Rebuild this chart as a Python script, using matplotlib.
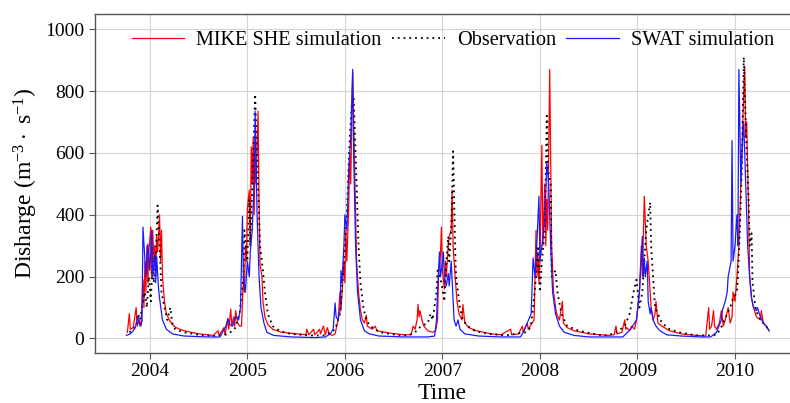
import numpy as np
import matplotlib
matplotlib.use('Agg')
import matplotlib.pyplot as plt

plt.rcParams['font.family'] = 'Liberation Serif'
plt.rcParams['mathtext.fontset'] = 'custom'
plt.rcParams['mathtext.rm'] = 'Liberation Serif'
plt.rcParams['mathtext.it'] = 'Liberation Serif:italic'

# MIKE SHE simulation (time in decimal years, discharge)
mike_t = [2003.77, 2003.79, 2003.80, 2003.83, 2003.86, 2003.87, 2003.89, 2003.91, 2003.93, 2003.94,
          2003.95, 2003.96, 2003.97, 2003.98, 2003.99, 2004.01, 2004.02, 2004.03, 2004.04, 2004.05,
          2004.06, 2004.07, 2004.08, 2004.10, 2004.11, 2004.12, 2004.13, 2004.15, 2004.17, 2004.20,
          2004.23, 2004.27, 2004.35, 2004.50, 2004.65, 2004.70, 2004.71, 2004.76, 2004.77, 2004.80,
          2004.81, 2004.83, 2004.84, 2004.86, 2004.87, 2004.88, 2004.90, 2004.92, 2004.94, 2004.96,
          2004.97, 2004.98, 2004.99, 2005.00, 2005.02, 2005.03, 2005.04, 2005.05, 2005.06, 2005.07,
          2005.08, 2005.09, 2005.11, 2005.12, 2005.13, 2005.15, 2005.16, 2005.18, 2005.21, 2005.26,
          2005.35, 2005.50, 2005.60, 2005.61, 2005.63, 2005.68, 2005.69, 2005.74, 2005.75, 2005.78,
          2005.80, 2005.82, 2005.84, 2005.87, 2005.90, 2005.93, 2005.95, 2005.96, 2005.97, 2005.99,
          2006.00, 2006.01, 2006.02, 2006.04, 2006.05, 2006.06, 2006.08, 2006.09, 2006.10, 2006.11,
          2006.12, 2006.14, 2006.16, 2006.18, 2006.20, 2006.22, 2006.23, 2006.28, 2006.31, 2006.33,
          2006.45, 2006.60, 2006.68, 2006.70, 2006.72, 2006.74, 2006.75, 2006.76, 2006.77, 2006.79,
          2006.81, 2006.85, 2006.90, 2006.93, 2006.95, 2006.96, 2006.98, 2006.99, 2007.00, 2007.02,
          2007.03, 2007.04, 2007.06, 2007.07, 2007.09, 2007.10, 2007.11, 2007.13, 2007.15, 2007.17,
          2007.20, 2007.21, 2007.23, 2007.27, 2007.35, 2007.50, 2007.60, 2007.70, 2007.71, 2007.78,
          2007.82, 2007.83, 2007.87, 2007.88, 2007.91, 2007.94, 2007.96, 2007.97, 2007.98, 2007.99,
          2008.00, 2008.02, 2008.03, 2008.04, 2008.05, 2008.06, 2008.07, 2008.08, 2008.10, 2008.11,
          2008.12, 2008.14, 2008.17, 2008.20, 2008.23, 2008.24, 2008.28, 2008.35, 2008.50, 2008.70,
          2008.76, 2008.78, 2008.79, 2008.84, 2008.87, 2008.88, 2008.89, 2008.92, 2008.94, 2008.97,
          2008.99, 2009.02, 2009.04, 2009.05, 2009.07, 2009.09, 2009.11, 2009.13, 2009.14, 2009.16,
          2009.18, 2009.19, 2009.21, 2009.25, 2009.33, 2009.45, 2009.60, 2009.70, 2009.73, 2009.74,
          2009.76, 2009.78, 2009.79, 2009.81, 2009.84, 2009.86, 2009.88, 2009.90, 2009.93, 2009.95,
          2009.97, 2009.98, 2010.00, 2010.02, 2010.04, 2010.06, 2010.08, 2010.10, 2010.11, 2010.12,
          2010.14, 2010.15, 2010.17, 2010.19, 2010.22, 2010.26, 2010.27, 2010.29, 2010.32, 2010.35]
mike_q = [20, 80, 30, 35, 100, 40, 60, 40, 190, 100,
          250, 150, 300, 180, 280, 360, 200, 350, 250, 300,
          200, 330, 280, 400, 250, 350, 200, 120, 80, 60,
          45, 35, 25, 15, 10, 25, 10, 35, 12, 60,
          30, 95, 40, 70, 40, 90, 50, 40, 40, 200,
          150, 300, 250, 420, 480, 300, 620, 500, 650, 400,
          600, 500, 735, 450, 240, 200, 120, 70, 45, 30,
          20, 15, 12, 30, 12, 30, 12, 30, 15, 40,
          12, 35, 15, 10, 15, 60, 150, 90, 140, 250,
          180, 350, 250, 430, 600, 500, 860, 700, 560, 400,
          250, 150, 90, 60, 50, 75, 40, 30, 40, 25,
          18, 12, 12, 40, 30, 60, 110, 70, 90, 60,
          40, 25, 20, 25, 60, 200, 270, 360, 220, 160,
          250, 200, 300, 330, 350, 480, 300, 200, 120, 80,
          60, 110, 50, 35, 25, 15, 12, 30, 12, 15,
          40, 20, 50, 30, 45, 60, 350, 200, 280, 180,
          250, 625, 300, 400, 500, 300, 450, 350, 870, 600,
          300, 150, 80, 60, 120, 50, 35, 25, 15, 10,
          12, 40, 15, 20, 60, 30, 35, 25, 40, 30,
          60, 150, 300, 200, 460, 300, 250, 150, 100, 60,
          80, 120, 50, 40, 25, 15, 10, 8, 100, 30,
          40, 90, 40, 30, 50, 90, 40, 60, 100, 50,
          70, 150, 120, 200, 300, 500, 700, 880, 650, 700,
          400, 200, 130, 100, 70, 60, 90, 50, 40, 25]

# Observation
obs_t = [2003.79, 2003.83, 2003.86, 2003.88, 2003.90, 2003.92, 2003.95, 2003.97, 2003.99, 2004.01,
         2004.03, 2004.04, 2004.06, 2004.08, 2004.10, 2004.12, 2004.15, 2004.18, 2004.21, 2004.23,
         2004.26, 2004.35, 2004.50, 2004.65, 2004.75, 2004.80, 2004.87, 2004.92, 2004.96, 2004.97,
         2005.00, 2005.02, 2005.03, 2005.05, 2005.08, 2005.11, 2005.13, 2005.16, 2005.18, 2005.21,
         2005.26, 2005.33, 2005.44, 2005.64, 2005.80, 2005.90, 2005.95, 2005.98, 2006.02, 2006.05,
         2006.07, 2006.09, 2006.12, 2006.14, 2006.16, 2006.19, 2006.22, 2006.26, 2006.36, 2006.56,
         2006.65, 2006.72, 2006.78, 2006.85, 2006.88, 2006.90, 2006.94, 2006.95, 2006.99, 2007.02,
         2007.04, 2007.06, 2007.07, 2007.09, 2007.11, 2007.12, 2007.13, 2007.14, 2007.16, 2007.18,
         2007.21, 2007.26, 2007.33, 2007.47, 2007.65, 2007.75, 2007.85, 2007.89, 2007.91, 2007.93,
         2007.96, 2007.98, 2008.00, 2008.02, 2008.05, 2008.07, 2008.08, 2008.11, 2008.12, 2008.16,
         2008.18, 2008.22, 2008.28, 2008.40, 2008.60, 2008.70, 2008.78, 2008.87, 2008.92, 2008.96,
         2008.99, 2009.02, 2009.05, 2009.07, 2009.09, 2009.13, 2009.14, 2009.16, 2009.18, 2009.21,
         2009.25, 2009.33, 2009.43, 2009.60, 2009.75, 2009.81, 2009.85, 2009.92, 2009.95, 2009.98,
         2010.02, 2010.03, 2010.05, 2010.07, 2010.09, 2010.10, 2010.12, 2010.14, 2010.15, 2010.17,
         2010.18, 2010.21, 2010.24, 2010.29, 2010.32, 2010.35]
obs_q = [20, 30, 40, 80, 60, 100, 150, 100, 200, 120,
         250, 180, 250, 430, 300, 150, 100, 60, 100, 50,
         30, 20, 12, 8, 10, 15, 30, 80, 200, 350,
         250, 450, 300, 480, 790, 500, 300, 220, 150, 80,
         40, 25, 15, 10, 10, 30, 80, 200, 400, 650,
         750, 780, 500, 300, 180, 100, 60, 40, 20, 10,
         10, 20, 40, 50, 80, 60, 150, 220, 180, 120,
         250, 330, 250, 350, 605, 450, 300, 200, 150, 100,
         60, 40, 25, 15, 10, 15, 20, 30, 50, 100,
         200, 300, 150, 250, 350, 720, 550, 500, 200, 220,
         150, 80, 40, 25, 12, 10, 20, 40, 80, 150,
         190, 100, 150, 250, 350, 440, 300, 200, 100, 80,
         50, 30, 20, 10, 10, 12, 30, 80, 100, 130,
         150, 200, 350, 550, 910, 800, 600, 450, 300, 340,
         180, 100, 70, 50, 40, 25]

# SWAT simulation
swat_t = [2003.76, 2003.80, 2003.83, 2003.85, 2003.88, 2003.90, 2003.92, 2003.93, 2003.96, 2003.98,
          2003.99, 2004.00, 2004.02, 2004.03, 2004.05, 2004.06, 2004.07, 2004.09, 2004.10, 2004.13,
          2004.17, 2004.23, 2004.35, 2004.60, 2004.72, 2004.78, 2004.80, 2004.82, 2004.85, 2004.88,
          2004.91, 2004.93, 2004.95, 2004.96, 2004.98, 2005.00, 2005.02, 2005.03, 2005.05, 2005.07,
          2005.08, 2005.10, 2005.12, 2005.14, 2005.17, 2005.20, 2005.27, 2005.45, 2005.70, 2005.80,
          2005.85, 2005.88, 2005.90, 2005.91, 2005.93, 2005.95, 2005.96, 2005.97, 2005.99, 2006.00,
          2006.02, 2006.04, 2006.06, 2006.08, 2006.09, 2006.11, 2006.13, 2006.16, 2006.20, 2006.25,
          2006.35, 2006.60, 2006.85, 2006.92, 2006.94, 2006.95, 2006.97, 2006.98, 2006.99, 2007.01,
          2007.02, 2007.04, 2007.06, 2007.07, 2007.09, 2007.11, 2007.12, 2007.14, 2007.16, 2007.18,
          2007.23, 2007.37, 2007.60, 2007.80, 2007.82, 2007.87, 2007.91, 2007.93, 2007.95, 2007.96,
          2007.99, 2008.00, 2008.02, 2008.05, 2008.07, 2008.09, 2008.11, 2008.13, 2008.16, 2008.20,
          2008.25, 2008.35, 2008.50, 2008.85, 2008.93, 2008.99, 2009.02, 2009.05, 2009.06, 2009.07,
          2009.08, 2009.10, 2009.11, 2009.13, 2009.14, 2009.16, 2009.19, 2009.23, 2009.30, 2009.45,
          2009.65, 2009.75, 2009.81, 2009.86, 2009.87, 2009.90, 2009.92, 2009.93, 2009.96, 2009.97,
          2009.98, 2010.00, 2010.02, 2010.03, 2010.04, 2010.06, 2010.08, 2010.09, 2010.11, 2010.13,
          2010.15, 2010.17, 2010.19, 2010.22, 2010.23, 2010.26, 2010.29, 2010.32, 2010.35]
swat_q = [10, 15, 25, 35, 70, 40, 55, 360, 200, 305,
          270, 220, 350, 200, 270, 180, 265, 160, 130, 60,
          30, 15, 8, 5, 5, 40, 65, 45, 40, 70,
          60, 100, 395, 200, 150, 250, 200, 280, 350, 500,
          735, 400, 200, 100, 50, 20, 10, 5, 3, 5,
          15, 30, 115, 70, 60, 90, 220, 180, 300, 400,
          350, 550, 650, 870, 600, 300, 150, 60, 25, 15,
          8, 5, 5, 8, 60, 150, 280, 200, 220, 280,
          200, 170, 210, 170, 250, 120, 60, 40, 60, 30,
          15, 8, 5, 5, 15, 50, 80, 260, 200, 250,
          460, 250, 300, 380, 570, 500, 300, 150, 80, 40,
          20, 10, 5, 5, 30, 60, 150, 330, 200, 260,
          200, 250, 120, 80, 100, 60, 40, 25, 12, 8,
          5, 5, 20, 60, 90, 120, 150, 200, 250, 640,
          250, 300, 400, 300, 870, 500, 650, 700, 500, 300,
          200, 130, 100, 90, 100, 70, 50, 40, 25]

years = [2004, 2005, 2006, 2007, 2008, 2009, 2010]
yticks = [0, 200, 400, 600, 800, 1000]

fig, ax = plt.subplots(figsize=(7.9, 4.03), dpi=100)
fig.subplots_adjust(left=0.12, right=1.0, top=0.965, bottom=0.124)

ax.plot(mike_t, mike_q, color='#ff0000', lw=0.9, label='MIKE SHE simulation')
ax.plot(obs_t, obs_q, color='black', lw=1.3, ls=(0, (1, 2.2)), label='Observation')
ax.plot(swat_t, swat_q, color='#1a1aff', lw=0.9, label='SWAT simulation')

ax.set_xlim(2003.436, 2010.564)
ax.set_ylim(-47, 1049)
ax.set_xticks(years)
ax.set_xticklabels([str(y) for y in years])
ax.set_yticks(yticks)
ax.grid(True, color='#d4d4d4', lw=0.8)
ax.set_axisbelow(True)

for side in ['left', 'bottom', 'top']:
    ax.spines[side].set_color('#555555')
    ax.spines[side].set_linewidth(1.0)
ax.spines['right'].set_visible(False)
ax.tick_params(axis='both', labelsize=14, color='#555555', length=4, width=0.8)

ax.set_xlabel('Time', fontsize=17, labelpad=2)
ax.set_ylabel('Disharge (m$^{-3}\\cdot$ s$^{-1}$)', fontsize=17, labelpad=4)

ax.legend(loc='upper center', ncol=3, frameon=False, fontsize=14.6,
          handlelength=2.6, columnspacing=0.5, handletextpad=0.6,
          bbox_to_anchor=(0.515, 1.005))

fig.savefig('out.png', dpi=100)
